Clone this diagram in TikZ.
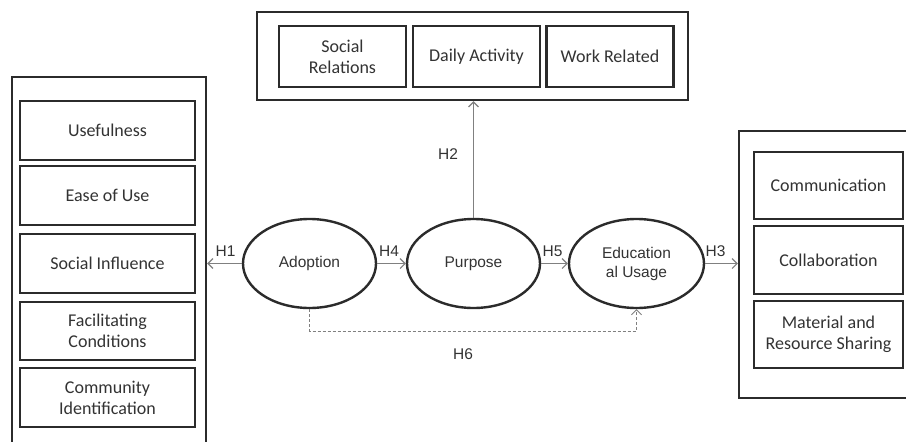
\documentclass[tikz,border=0pt]{standalone}
\usepackage{fontspec}
\setmainfont{Liberation Sans}
\newfontfamily\boxfont{Carlito}
\newfontfamily\ellfont{Liberation Sans}
\usetikzlibrary{arrows.meta,shapes.geometric}
\definecolor{edge}{HTML}{2B2B2B}
\definecolor{conn}{HTML}{808080}
\definecolor{txt}{HTML}{333333}
\tikzset{
  outerbox/.style={draw=edge, line width=2.4pt, rectangle, inner sep=0pt},
  itembox/.style={draw=edge, line width=2.4pt, rectangle, inner sep=0pt, align=center,
    text=txt, font=\boxfont\fontsize{18}{21}\selectfont},
  construct/.style={draw=edge, line width=2.4pt, ellipse, inner sep=0pt, align=center,
    minimum width=133pt, minimum height=89pt, text=txt, font=\ellfont\fontsize{15.5}{19}\selectfont},
  conn/.style={draw=conn, line width=1.1pt, -{Straight Barb[length=5pt,width=10pt]}},
  hlabel/.style={text=txt, font=\ellfont\fontsize{15.5}{19}\selectfont, inner sep=0pt}
}
\begin{document}
\begin{tikzpicture}[x=1pt,y=-1pt]
\clip (0,0) rectangle (906,442);
\fill[white] (0,0) rectangle (906,442);
% left group
\node[outerbox, minimum width=194pt, minimum height=383pt] (left) at (109,268.5) {};
\node[itembox, minimum width=175pt, minimum height=59pt] (useful) at (107.5,130.5) {Usefulness};
\node[itembox, minimum width=175pt, minimum height=59pt] (ease) at (107.5,195.5) {Ease of Use};
\node[itembox, minimum width=175pt, minimum height=59pt] (social) at (107.5,263.5) {Social Influence};
\node[itembox, minimum width=175pt, minimum height=58pt] (facil) at (107.5,331) {Facilitating\\Conditions};
\node[itembox, minimum width=175pt, minimum height=59pt] (comm) at (107.5,397.5) {Community\\Identification};
% top group
\node[outerbox, minimum width=431pt, minimum height=88pt] (top) at (472.5,56) {};
\node[itembox, minimum width=127pt, minimum height=61pt] (srel) at (342.5,56.5) {Social\\Relations};
\node[itembox, minimum width=127pt, minimum height=61pt] (daily) at (476.5,56.5) {Daily Activity};
\node[itembox, minimum width=127pt, minimum height=61pt] (work) at (610,56.5) {Work Related};
% right group
\node[outerbox, minimum width=181pt, minimum height=267pt] (right) at (829.5,264.5) {};
\node[itembox, minimum width=149pt, minimum height=67pt] (commu) at (828.5,185.5) {Communication};
\node[itembox, minimum width=149pt, minimum height=68pt] (collab) at (828.5,260) {Collaboration};
\node[itembox, minimum width=149pt, minimum height=67pt] (mat) at (828.5,334.5) {Material and\\Resource Sharing};
% constructs
\node[construct] (ado) at (309.5,263.5) {Adoption};
\node[construct] (pur) at (473.5,263.5) {Purpose};
\node[construct, minimum width=135pt] (edu) at (636.5,263.5) {Education\\al Usage};
% connectors
\draw[conn] (ado.west) -- (ado.west -| left.east);
\draw[conn] (ado.east) -- (pur.west);
\draw[conn] (pur.east) -- (edu.west);
\draw[conn] (edu.east) -- (edu.east -| right.west);
\draw[conn] (pur.north) -- (pur.north |- top.south);
\coordinate (h6) at (473,331);
\draw[conn, dashed, dash pattern=on 3pt off 2pt, line width=0.9pt] (ado.south) -- (ado.south |- h6) -- (edu.south |- h6) -- (edu.south);
% labels
\node[hlabel] (h1l) at (225.5,251.5) {H1};
\node[hlabel] (h4l) at (389,251.5) {H4};
\node[hlabel] (h5l) at (552.5,251.5) {H5};
\node[hlabel] (h3l) at (715.5,251) {H3};
\node[hlabel] (h2l) at (448,154.5) {H2};
\node[hlabel] (h6l) at (463,354.5) {H6};
\end{tikzpicture}
\end{document}
